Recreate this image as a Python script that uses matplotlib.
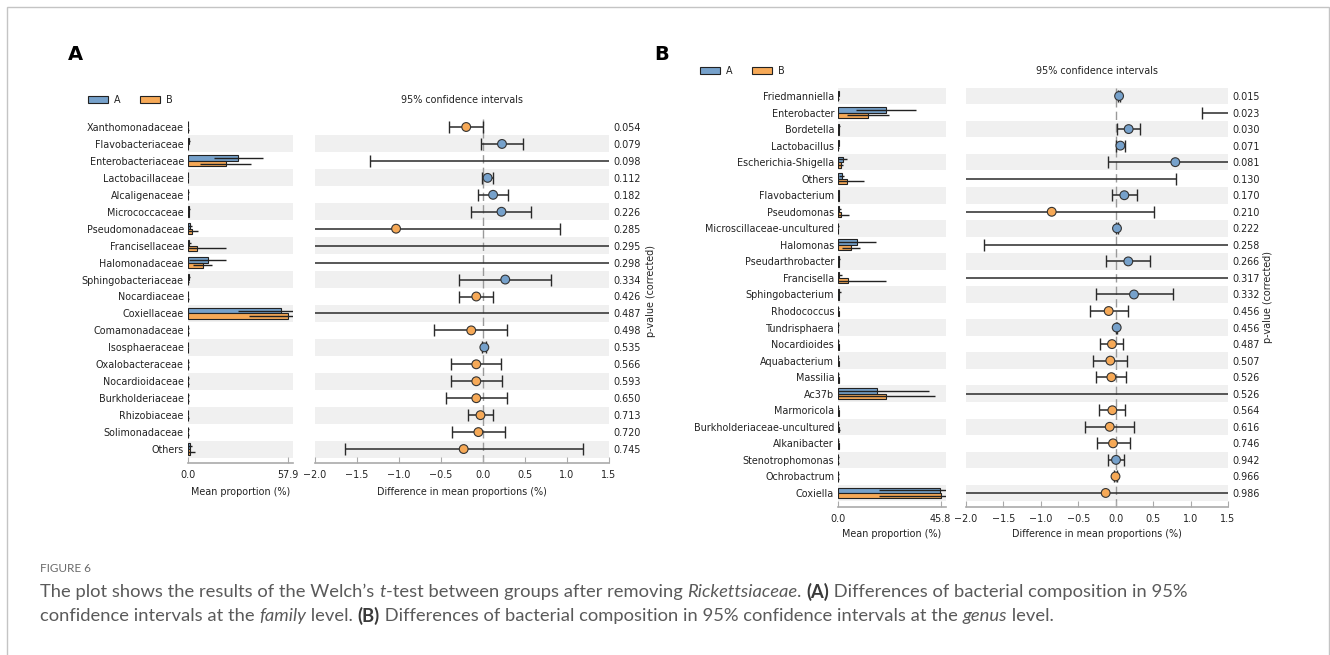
import numpy as np
import matplotlib
matplotlib.use("Agg")
import matplotlib.pyplot as plt
from matplotlib.patches import Patch, Rectangle

# ---------------- data: panel A (family level) ----------------
fam_names = ['Xanthomonadaceae', 'Flavobacteriaceae', 'Enterobacteriaceae', 'Lactobacillaceae',
             'Alcaligenaceae', 'Micrococcaceae', 'Pseudomonadaceae', 'Francisellaceae',
             'Halomonadaceae', 'Sphingobacteriaceae', 'Nocardiaceae', 'Coxiellaceae',
             'Comamonadaceae', 'Isosphaeraceae', 'Oxalobacteraceae', 'Nocardioidaceae',
             'Burkholderiaceae', 'Rhizobiaceae', 'Solimonadaceae', 'Others']
fam_mean_A = [0.05, 0.3, 29.1, 0.15, 0.2, 0.5, 1.0, 0.6, 11.4, 0.4, 0.05, 53.7, 0.1, 0.1, 0.05, 0.1, 0.1, 0.05, 0.05, 1.0]
fam_sd_A = [0.2, 0.6, 14.2, 0.1, 0.2, 0.7, 1.3, 1.2, 10.6, 0.9, 0.2, 24.5, 0.4, 0.1, 0.3, 0.4, 0.4, 0.2, 0.3, 1.5]
fam_mean_B = [0.25, 0.05, 21.8, 0.1, 0.1, 0.3, 2.1, 5.0, 8.5, 0.15, 0.15, 57.9, 0.25, 0.1, 0.15, 0.2, 0.2, 0.1, 0.1, 1.3]
fam_sd_B = [0.3, 0.1, 14.6, 0.1, 0.1, 0.3, 3.5, 17.0, 5.6, 0.3, 0.3, 22.6, 0.5, 0.1, 0.4, 0.4, 0.5, 0.2, 0.4, 3.0]
fam_diff = [-0.20, 0.226, 7.3, 0.055, 0.12, 0.22, -1.035, -4.4, 2.9, 0.265, -0.08, -4.2, -0.14, 0.016,
            -0.08, -0.08, -0.08, -0.03, -0.055, -0.23]
fam_ci_low = [-0.41, -0.02, -1.35, -0.01, -0.055, -0.14, -2.99, -13.0, -4.5, -0.28, -0.28, -18.0, -0.58,
              -0.01, -0.38, -0.38, -0.44, -0.18, -0.37, -1.64]
fam_ci_high = [0.0, 0.48, 15.9, 0.115, 0.30, 0.57, 0.917, 4.2, 10.3, 0.805, 0.12, 9.6, 0.29, 0.035,
               0.21, 0.226, 0.28, 0.12, 0.26, 1.19]
fam_p = ['0.054', '0.079', '0.098', '0.112', '0.182', '0.226', '0.285', '0.295', '0.298', '0.334',
         '0.426', '0.487', '0.498', '0.535', '0.566', '0.593', '0.650', '0.713', '0.720', '0.745']

# ---------------- data: panel B (genus level) ----------------
gen_names = ['Friedmanniella', 'Enterobacter', 'Bordetella', 'Lactobacillus', 'Escherichia-Shigella',
             'Others', 'Flavobacterium', 'Pseudomonas', 'Microscillaceae-uncultured', 'Halomonas',
             'Pseudarthrobacter', 'Francisella', 'Sphingobacterium', 'Rhodococcus', 'Tundrisphaera',
             'Nocardioides', 'Aquabacterium', 'Massilia', 'Ac37b', 'Marmoricola',
             'Burkholderiaceae-uncultured', 'Alkanibacter', 'Stenotrophomonas', 'Ochrobactrum', 'Coxiella']
gen_mean_A = [0.1, 21.2, 0.3, 0.1, 1.9, 1.5, 0.2, 0.5, 0.05, 8.2, 0.3, 0.5, 0.4, 0.05, 0.05,
              0.05, 0.05, 0.05, 17.2, 0.05, 0.05, 0.05, 0.05, 0.05, 45.3]
gen_sd_A = [0.1, 13.4, 0.4, 0.1, 1.9, 1.0, 0.3, 0.6, 0.05, 8.5, 0.5, 1.0, 0.6, 0.1, 0.05,
            0.1, 0.1, 0.1, 23.2, 0.1, 0.2, 0.1, 0.1, 0.05, 27.0]
gen_mean_B = [0.05, 13.1, 0.1, 0.05, 1.1, 4.0, 0.1, 1.4, 0.03, 5.7, 0.1, 4.2, 0.15, 0.1, 0.03,
              0.1, 0.1, 0.1, 21.2, 0.1, 0.15, 0.1, 0.05, 0.05, 45.8]
gen_sd_B = [0.05, 9.4, 0.2, 0.05, 1.2, 7.6, 0.1, 3.4, 0.03, 4.0, 0.2, 17.3, 0.2, 0.2, 0.03,
            0.2, 0.3, 0.2, 21.9, 0.2, 0.4, 0.2, 0.1, 0.05, 27.5]
gen_diff = [0.045, 8.1, 0.173, 0.062, 0.796, -2.4, 0.115, -0.855, 0.017, 2.5, 0.168, -3.7, 0.244,
            -0.094, 0.013, -0.05, -0.072, -0.058, -4.0, -0.045, -0.08, -0.036, 0.004, -0.003, -0.134]
gen_ci_low = [0.03, 1.15, 0.02, 0.0, -0.10, -5.6, -0.05, -2.23, 0.005, -1.76, -0.125, -12.0, -0.26,
              -0.35, 0.005, -0.205, -0.31, -0.26, -20.0, -0.22, -0.41, -0.254, -0.10, -0.02, -20.0]
gen_ci_high = [0.06, 15.0, 0.33, 0.128, 1.69, 0.81, 0.285, 0.516, 0.03, 6.76, 0.454, 4.6, 0.765,
               0.16, 0.02, 0.10, 0.155, 0.137, 12.0, 0.124, 0.248, 0.19, 0.107, 0.015, 19.7]
gen_p = ['0.015', '0.023', '0.030', '0.071', '0.081', '0.130', '0.170', '0.210', '0.222', '0.258',
         '0.266', '0.317', '0.332', '0.456', '0.456', '0.487', '0.507', '0.526', '0.526', '0.564',
         '0.616', '0.746', '0.942', '0.966', '0.986']

group_labels = ['A', 'B']
ci_ticks = [-2.0, -1.5, -1.0, -0.5, 0.0, 0.5, 1.0, 1.5]

# ---------------- style ----------------
W, H = 1330, 655
BLUE = '#76A1CB'
ORANGE = '#F6A957'
STRIPE = '#F0F0F0'
TXT = '#222222'
SPINE = '#AAAAAA'
FS = 6.9

plt.rcParams['font.family'] = ['DejaVu Sans']
fig = plt.figure(figsize=(W / 100, H / 100), dpi=100)


def rect(x0, y0, x1, y1):
    return [x0 / W, 1 - y1 / H, (x1 - x0) / W, (y1 - y0) / H]


def fx(x):
    return x / W


def fy(y):
    return 1 - y / H


def style_axis(ax):
    for s in ['top', 'right', 'left']:
        ax.spines[s].set_visible(False)
    ax.spines['bottom'].set_color(SPINE)
    ax.spines['bottom'].set_linewidth(1.2)
    ax.tick_params(axis='x', direction='in', length=4, color=SPINE, labelsize=FS,
                   labelcolor=TXT, pad=5)


def stripes(ax, n):
    for i in range(n):
        if (n - 1 - i) % 2 == 0:
            ax.axhspan(i - 0.5, i + 0.5, color=STRIPE, lw=0, zorder=0)


def panel(names, mA, sA, mB, sB, diff, lo, hi, pv,
          bar_x0, bar_x1, ci_x0, ci_x1, row_top, row_step, bottom_y,
          legend_xy, title_y, xlabel_y, letter, letter_xy, plabel_x):
    n = len(names)
    rows = np.arange(n)
    top_px = row_top - row_step / 2
    ybot = (bottom_y - row_top) / row_step
    mA, sA, mB, sB = map(np.asarray, (mA, sA, mB, sB))
    diff, lo, hi = map(np.asarray, (diff, lo, hi))

    # ---- bar axis
    axb = fig.add_axes(rect(bar_x0, top_px, bar_x1, bottom_y))
    stripes(axb, n)
    h = 0.33
    mx = max(mA.max(), mB.max())
    ekw = dict(ecolor='#222222', elinewidth=1.0, capsize=0)
    axb.barh(rows - h / 2, mA, height=h, color=BLUE, edgecolor='#222222', linewidth=0.8,
             xerr=sA, error_kw=ekw, zorder=2)
    axb.barh(rows + h / 2, mB, height=h, color=ORANGE, edgecolor='#222222', linewidth=0.8,
             xerr=sB, error_kw=ekw, zorder=2)
    axb.set_xlim(0, mx * 1.05)
    axb.set_ylim(ybot, -0.5)
    axb.set_xticks([0, mx])
    axb.set_xticklabels(['0.0', '%.1f' % mx])
    axb.set_yticks(rows)
    axb.set_yticklabels(names, fontsize=FS, color=TXT)
    axb.tick_params(axis='y', length=0, pad=3)
    style_axis(axb)
    fig.text(fx((bar_x0 + bar_x1) / 2), fy(xlabel_y), 'Mean proportion (%)', ha='center',
             va='center', fontsize=FS, color=TXT)

    # ---- CI axis
    axc = fig.add_axes(rect(ci_x0, top_px, ci_x1, bottom_y))
    stripes(axc, n)
    axc.axvline(0, color='#9A9A9A', lw=1.0, ls=(0, (6, 3)), zorder=1)
    axc.errorbar(diff, rows, xerr=[diff - lo, hi - diff], fmt='none', ecolor='#2A2A2A',
                 elinewidth=1.1, capsize=4, capthick=1.0, zorder=2)
    cols = [BLUE if d > 0 else ORANGE for d in diff]
    axc.scatter(diff, rows, s=40, c=cols, edgecolors='#333333', linewidths=0.8, zorder=3)
    axc.set_xlim(-2.0, 1.5)
    axc.set_ylim(ybot, -0.5)
    axc.set_xticks(ci_ticks)
    style_axis(axc)
    axc.yaxis.tick_right()
    axc.set_yticks(rows)
    axc.set_yticklabels(pv, fontsize=FS, color=TXT)
    axc.tick_params(axis='y', length=0, pad=3.5)
    fig.text(fx(plabel_x), fy((top_px + bottom_y) / 2), 'p-value (corrected)', rotation=90,
             ha='center', va='center', fontsize=FS, color=TXT)
    fig.text(fx((ci_x0 + ci_x1) / 2), fy(title_y), '95% confidence intervals', ha='center',
             va='center', fontsize=FS, color=TXT)
    fig.text(fx((ci_x0 + ci_x1) / 2), fy(xlabel_y), 'Difference in mean proportions (%)',
             ha='center', va='center', fontsize=FS, color=TXT)

    # ---- legend
    handles = [Patch(facecolor=BLUE, edgecolor='#222222', linewidth=0.8),
               Patch(facecolor=ORANGE, edgecolor='#222222', linewidth=0.8)]
    fig.legend(handles, group_labels, loc='center left',
               bbox_to_anchor=(fx(legend_xy[0]), fy(legend_xy[1])), ncol=2, frameon=False,
               fontsize=FS, handlelength=2.1, handleheight=0.8, handletextpad=0.6,
               columnspacing=2.0, borderpad=0, borderaxespad=0, labelcolor=TXT)

    fig.text(fx(letter_xy[0]), fy(letter_xy[1]), letter, ha='center', va='center',
             fontsize=14, fontweight='bold', color='black')


panel(fam_names, fam_mean_A, fam_sd_A, fam_mean_B, fam_sd_B, fam_diff, fam_ci_low, fam_ci_high,
      fam_p, bar_x0=188, bar_x1=293, ci_x0=315, ci_x1=609, row_top=127, row_step=16.95,
      bottom_y=463, legend_xy=(88, 100), title_y=100, xlabel_y=492, letter='A',
      letter_xy=(75, 55), plabel_x=651)

panel(gen_names, gen_mean_A, gen_sd_A, gen_mean_B, gen_sd_B, gen_diff, gen_ci_low, gen_ci_high,
      gen_p, bar_x0=838.3, bar_x1=945.8, ci_x0=966, ci_x1=1228, row_top=96, row_step=16.54,
      bottom_y=506.7, legend_xy=(700, 71), title_y=71, xlabel_y=534, letter='B',
      letter_xy=(662, 55), plabel_x=1268)

# ---------------- caption ----------------
CAP = '#5A5A5A'
CAP_FONT = ['Lato']
renderer = fig.canvas.get_renderer()

line1 = [("The plot shows the results of the Welch\u2019s ", 'n'), ("t", 'i'),
         ("-test between groups after removing ", 'n'), ("Rickettsiaceae", 'i'),
         (". ", 'n'), ("(A)", 'b'), (" Differences of bacterial composition in 95%", 'n')]
line2 = [("confidence intervals at the ", 'n'), ("family", 'i'), (" level. ", 'n'), ("(B)", 'b'),
         (" Differences of bacterial composition in 95% confidence intervals at the ", 'n'),
         ("genus", 'i'), (" level.", 'n')]


def rich_line(x_px, y_px, parts, size):
    x = x_px
    texts = []
    for txt, st in parts:
        kw = dict(fontsize=size, color=CAP, family=CAP_FONT, va='center', ha='left')
        if st == 'i':
            kw['style'] = 'italic'
        elif st == 'b':
            kw['weight'] = 'bold'
            kw['color'] = '#3A3A3A'
        t = fig.text(fx(x), fy(y_px), txt, **kw)
        texts.append(t)
        x += t.get_window_extent(renderer).width
    return x - x_px, texts


w0, tmp = rich_line(40, 592, line1, 10)
for t in tmp:
    t.remove()
cap_size = 10 * (1222 - 40) / w0
cap_size = min(cap_size, 13.2)
rich_line(40, 592, line1, cap_size)
rich_line(40, 616, line2, cap_size)

fig.text(fx(40), fy(568), 'FIGURE 6', fontsize=8.5, color='#6A6A6A', family=CAP_FONT,
         va='center', ha='left')

# border of the figure card
fig.add_artist(Rectangle((fx(6.5), -0.1), fx(1329) - fx(6.5), fy(6.5) + 0.1, fill=False,
                         edgecolor='#C4C4C4', linewidth=1.0, transform=fig.transFigure))

fig.savefig('out.png', dpi=100)
